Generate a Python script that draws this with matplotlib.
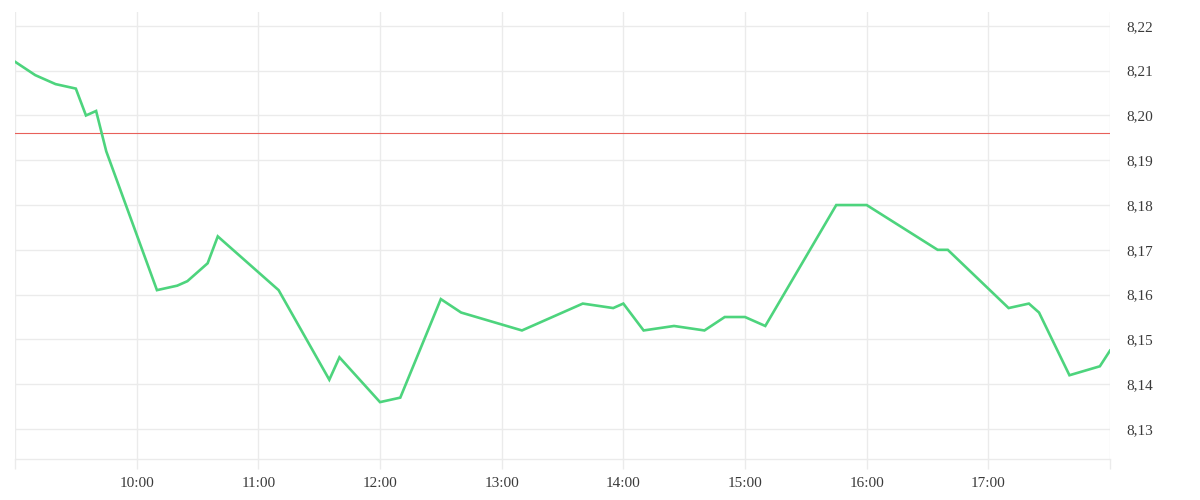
import matplotlib
matplotlib.use('Agg')
import matplotlib.pyplot as plt
import numpy as np

# minutes after 9:00 and price
minutes = [0, 10, 20, 30, 35, 40, 45, 70, 80, 85, 95, 100, 130, 155, 160, 180, 190,
           210, 220, 250, 280, 295, 300, 310, 325, 340, 350, 360, 370, 405, 420,
           455, 460, 490, 500, 505, 520, 535, 540]
price = [8.212, 8.209, 8.207, 8.206, 8.200, 8.201, 8.192, 8.161, 8.162, 8.163, 8.167,
         8.173, 8.161, 8.141, 8.146, 8.136, 8.137, 8.159, 8.156, 8.152, 8.158,
         8.157, 8.158, 8.152, 8.153, 8.152, 8.155, 8.155, 8.153, 8.180, 8.180,
         8.170, 8.170, 8.157, 8.158, 8.156, 8.142, 8.144, 8.1475]
prev_close = 8.196

hour_ticks = [9, 10, 11, 12, 13, 14, 15, 16, 17, 18]
hour_labels = ['', '10:00', '11:00', '12:00', '13:00', '14:00', '15:00', '16:00', '17:00', '']
price_ticks = [8.13, 8.14, 8.15, 8.16, 8.17, 8.18, 8.19, 8.20, 8.21, 8.22]

grid_col = '#ebebeb'

fig = plt.figure(figsize=(12, 5), dpi=100)
ax = fig.add_axes([0.0125, 0.082, 0.9125, 0.894])

x = 9 + np.array(minutes) / 60.0
ax.plot(x, price, color='#4dd47d', lw=1.9, solid_joinstyle='miter', zorder=3)
ax.axhline(prev_close, color='#e8605a', lw=0.8, zorder=2)

ax.set_xlim(9, 18)
ax.set_ylim(8.1233, 8.2231)

ax.set_xticks(hour_ticks)
ax.set_xticklabels(hour_labels)
ax.set_yticks(price_ticks)
ax.set_yticklabels([f'{v:.2f}'.replace('.', ',') for v in price_ticks])
ax.yaxis.tick_right()

ax.grid(True, color=grid_col, lw=1.0, zorder=0)
for s in ['top', 'left', 'right']:
    ax.spines[s].set_visible(False)
ax.spines['bottom'].set_color(grid_col)
ax.spines['bottom'].set_linewidth(1.0)

ax.tick_params(axis='x', length=7, width=1.0, color=grid_col, pad=6,
               labelsize=11, labelcolor='#3a3a3a')
ax.tick_params(axis='y', length=0, pad=12, labelsize=11, labelcolor='#3a3a3a')
for lab in ax.get_xticklabels() + ax.get_yticklabels():
    lab.set_fontfamily('Liberation Serif')

fig.savefig('out.png', dpi=100)
